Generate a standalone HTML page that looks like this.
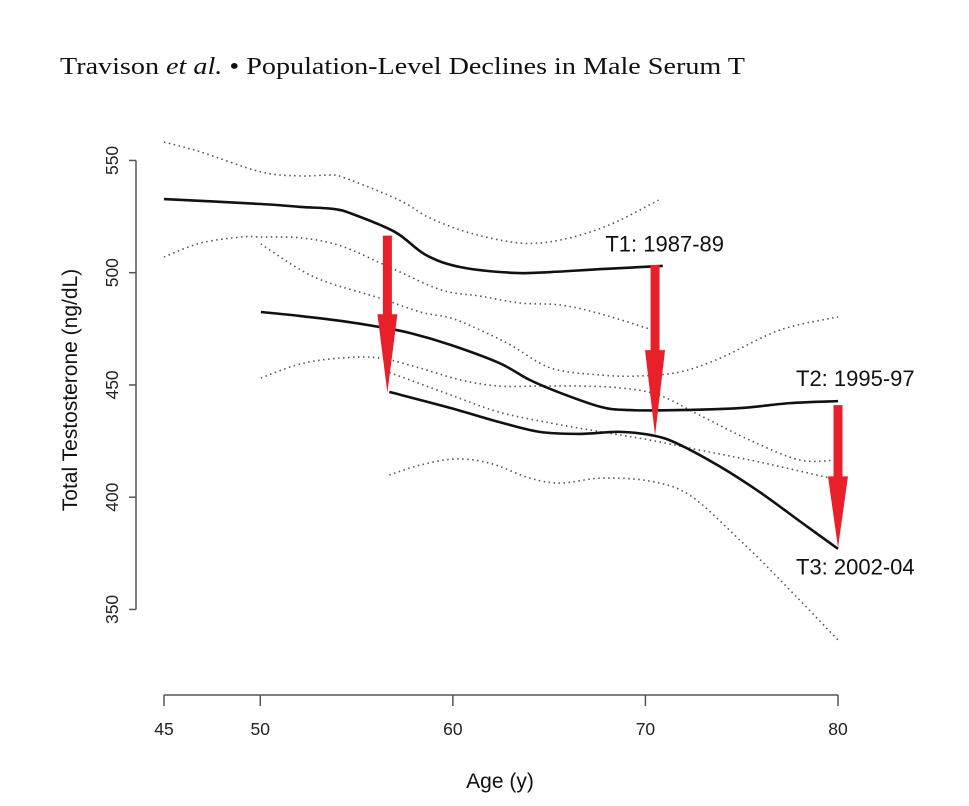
<!DOCTYPE html>
<html><head><meta charset="utf-8">
<style>
html,body{margin:0;padding:0;background:#fff;}
svg{display:block;}
</style></head>
<body>
<svg id="chart" width="969" height="806" viewBox="0 0 969 806" xmlns="http://www.w3.org/2000/svg">
<text x="60" y="74" font-family="'Liberation Serif', serif" font-size="24" fill="#111" textLength="685" lengthAdjust="spacingAndGlyphs">Travison <tspan font-style="italic">et al.</tspan> • Population-Level Declines in Male Serum T</text>
<g id="axes"></g>
<g id="series"></g>
<g id="arrows"></g>
</svg>
<script>
const xTicks=[45,50,60,70,80];
const yTicks=[350,400,450,500,550];
const t1Age=[45,50.03,52.1,53.8,54.8,57.0,58.6,60.4,63.2,65.1,67.7,70.9];
const t1Mean=[532.8,530.6,529.3,528.4,526.1,518.1,507.9,502.5,499.9,500.3,501.6,503.0];
const t1UpAge=[45,46.9,50.03,52.1,53.6,54.4,57.2,58.8,60.9,63.5,65.6,68.1,70.7];
const t1Up=[558.2,553.8,544.9,543.1,543.5,542.2,532.4,524.4,517.7,513.2,514.6,521.2,532.4];
const t1LoAge=[45,46.9,49.0,50.03,52.1,54.2,56.8,59.4,61.4,63.5,65.6,67.7,70.7];
const t1Lo=[507.0,513.2,515.9,515.9,515.5,511.9,502.1,492.3,489.6,486.5,485.6,481.6,473.6];
const t2Age=[50.03,52.1,54.2,56.2,57.8,59.9,62.4,64.0,65.6,67.7,69.2,71.8,74.9,77.5,80];
const t2Mean=[482.5,480.7,478.5,475.8,473.1,467.8,459.8,452.2,446.4,440.2,438.8,438.8,439.7,441.9,442.8];
const t2UpAge=[50.03,52.1,53.6,56.2,58.3,59.9,61.4,63.0,65.1,67.7,69.7,71.8,73.9,77.0,80];
const t2Up=[512.8,501.2,495.4,488.7,482.5,479.8,474.5,467.8,457.5,454.4,454.0,455.8,462.0,474.5,480.3];
const t2LoAge=[50.03,52.1,54.2,56.2,58.3,60.4,62.4,64.5,66.6,68.7,70.7,72.8,75.4,78.0,80];
const t2Lo=[453.1,459.4,462.0,462.0,457.5,452.2,449.5,449.5,449.5,448.7,445.5,436.6,425.5,416.6,416.6];
const t3Age=[56.7,59.9,62.4,64.5,66.6,68.7,70.5,71.8,73.9,76.0,78.0,80];
const t3Mean=[446.9,439.7,433.5,429.1,428.2,429.1,427.3,423.3,413.5,401.9,389.4,377.0];
const t3UpAge=[56.7,59.9,62.4,65.1,67.7,70.2,72.8,75.9,80];
const t3Up=[455.6,445.5,437.9,433.0,429.1,425.5,421.0,415.7,407.7];
const t3LoAge=[56.7,58.3,60.1,61.9,64.0,65.6,67.7,70.2,72.3,74.9,77.0,80];
const t3Lo=[409.9,414.3,417.0,415.2,408.5,406.3,408.5,407.2,400.9,380.9,363.1,336.4];
const arrowAge=[56.6,70.5,80];
const arrowFrom=[516.5,503.5,441];
const arrowTo=[446.5,427.5,377.5];
const labelText=["T1: 1987-89","T2: 1995-97","T3: 2002-04"];
const labelAge=[71.0,80.9,80.9];
const labelVal=[509.5,449.5,365.5];

const NS="http://www.w3.org/2000/svg";
const X=a=>164+(a-45)*(838-164)/35;
const Y=v=>272.7-(v-500)*2.245;
function mk(tag,attrs,parent){const e=document.createElementNS(NS,tag);for(const k in attrs)e.setAttribute(k,attrs[k]);parent.appendChild(e);return e;}
const axes=document.getElementById('axes');
const F="'Liberation Sans', Arial, sans-serif";
let yl=mk('line',{x1:136,x2:136,y1:Y(550),y2:Y(350),stroke:'#555','stroke-width':1.5},axes);


yTicks.forEach(v=>{
  const t=mk('line',{x1:129,x2:136,y1:Y(v),y2:Y(v),stroke:'#555','stroke-width':1.5},axes);
  
  
  const l=mk('text',{x:0,y:0,transform:`translate(118,${Y(v)}) rotate(-90)`,'text-anchor':'middle','font-family':F,'font-size':17.5,fill:'#222'},axes);
  l.textContent=v;
  
  
});
const yt=mk('text',{x:0,y:0,transform:'translate(77,390) rotate(-90)','text-anchor':'middle','font-family':F,'font-size':21,fill:'#111'},axes);
yt.textContent='Total Testosterone (ng/dL)';


let xl=mk('line',{x1:X(45),x2:X(80),y1:695,y2:695,stroke:'#555','stroke-width':1.5},axes);


xTicks.forEach(a=>{
  const t=mk('line',{x1:X(a),x2:X(a),y1:695,y2:706,stroke:'#555','stroke-width':1.5},axes);
  
  
  const l=mk('text',{x:X(a),y:735,'text-anchor':'middle','font-family':F,'font-size':17.5,fill:'#222'},axes);
  l.textContent=a;
  
  
});
const xt=mk('text',{x:500,y:788,'text-anchor':'middle','font-family':F,'font-size':21,fill:'#111'},axes);
xt.textContent='Age (y)';



function smooth(ages,vals){
  const p=ages.map((a,i)=>[X(a),Y(vals[i])]);
  let d=`M${p[0][0]},${p[0][1]}`;
  for(let i=0;i<p.length-1;i++){
    const p0=p[i-1]||p[i],p1=p[i],p2=p[i+1],p3=p[i+2]||p2;
    const c1=[p1[0]+(p2[0]-p0[0])/6,p1[1]+(p2[1]-p0[1])/6];
    const c2=[p2[0]-(p3[0]-p1[0])/6,p2[1]-(p3[1]-p1[1])/6];
    d+=`C${c1[0]},${c1[1]} ${c2[0]},${c2[1]} ${p2[0]},${p2[1]}`;
  }
  return d;
}
const series=document.getElementById('series');
const dotted=[[t1UpAge,t1Up,'t1-upper-ci'],[t1LoAge,t1Lo,'t1-lower-ci'],[t2UpAge,t2Up,'t2-upper-ci'],[t2LoAge,t2Lo,'t2-lower-ci'],[t3UpAge,t3Up,'t3-upper-ci'],[t3LoAge,t3Lo,'t3-lower-ci']];
dotted.forEach(s=>{
  const p=mk('path',{d:smooth(s[0],s[1]),fill:'none',stroke:'#555','stroke-width':1.6,'stroke-dasharray':'1.5 3.5'},series);
  
  
});
const solid=[[t1Age,t1Mean,'t1-mean-line'],[t2Age,t2Mean,'t2-mean-line'],[t3Age,t3Mean,'t3-mean-line']];
solid.forEach(s=>{
  const p=mk('path',{d:smooth(s[0],s[1]),fill:'none',stroke:'#111','stroke-width':2.6},series);
  
  
});
labelText.forEach((t,i)=>{
  const l=mk('text',{x:X(labelAge[i]),y:Y(labelVal[i]),'text-anchor':'middle','font-family':F,'font-size':22,fill:'#111'},series);
  l.textContent=t;
  
  
});
const arrows=document.getElementById('arrows');
arrowAge.forEach((a,i)=>{
  const x=X(a),y0=Y(arrowFrom[i]),y1=Y(arrowTo[i]);
  const hy=y0+(y1-y0)*0.5;
  const d=`M${x-4.5},${y0}L${x+4.5},${y0}L${x+4.5},${hy}L${x+10},${hy}L${x},${y1}L${x-10},${hy}L${x-4.5},${hy}Z`;
  const p=mk('path',{d:d,fill:'#e8202a'},arrows);
  
  
});
</script>
</body></html>
